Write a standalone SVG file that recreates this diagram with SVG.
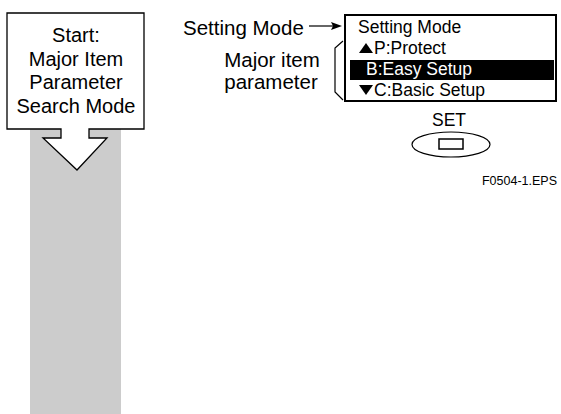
<svg xmlns="http://www.w3.org/2000/svg" width="561" height="414" viewBox="0 0 561 414">
<style>
text{font-family:"Liberation Sans",Arial,sans-serif;fill:#000}
.big{font-size:20px}
.lab{font-size:20.5px}
.lcd{font-size:17.5px}
.thin{fill:none;stroke:#000;stroke-width:1.2}
</style>
<rect width="561" height="414" fill="#fff"/>
<g id="flow-band">
<rect x="30" y="129" width="91" height="285" fill="#cccccc"/>
</g>
<g id="start">
<path d="M61,129 H7 V13 H144 V129 H89 V138 H107 L77,170 L43,138 H61 Z" fill="#fff" stroke="#000" stroke-width="1.3" stroke-linejoin="miter"/>
<text class="big" x="76" y="42" text-anchor="middle">Start:</text>
<text class="big" x="76" y="66" text-anchor="middle">Major Item</text>
<text class="big" x="76" y="89" text-anchor="middle">Parameter</text>
<text class="big" x="76" y="113" text-anchor="middle">Search Mode</text>
</g>
<g id="labels">
<text class="lab" x="183" y="35">Setting Mode</text>
<text class="lab" x="272" y="67" text-anchor="middle">Major item</text>
<text class="lab" x="271" y="89" text-anchor="middle">parameter</text>
</g>
<g id="connectors">
<line x1="309" y1="26" x2="334" y2="26" stroke="#000" stroke-width="1.2"/>
<path d="M342,26 L331,22 L333,26 L331,30 Z" fill="#000"/>
<path class="thin" d="M343,41 L335,48 V92 L343,100"/>
</g>
<g id="lcd-panel">
<rect x="345" y="15" width="211" height="86" fill="#fff" stroke="#000" stroke-width="2"/>
<rect x="350" y="60" width="204" height="20" fill="#000"/>
<text class="lcd" x="358" y="33">Setting Mode</text>
<path d="M359,53 L366,43 L373,53 Z" fill="#000"/>
<text class="lcd" x="374" y="54">P:Protect</text>
<text class="lcd" x="366" y="75" style="fill:#fff">B:Easy Setup</text>
<path d="M359,85 L373,85 L366,95 Z" fill="#000"/>
<text class="lcd" x="374" y="96">C:Basic Setup</text>
</g>
<g id="set-key">
<text class="lcd" x="449" y="126" text-anchor="middle">SET</text>
<ellipse cx="451" cy="144.5" rx="39" ry="12.5" fill="#fff" stroke="#000" stroke-width="1.2"/>
<rect x="439" y="139" width="24" height="10" fill="#fff" stroke="#000" stroke-width="1.5"/>
</g>
<g id="caption">
<text x="557" y="185" text-anchor="end" style="font-size:12.5px">F0504-1.EPS</text>
</g>
</svg>
